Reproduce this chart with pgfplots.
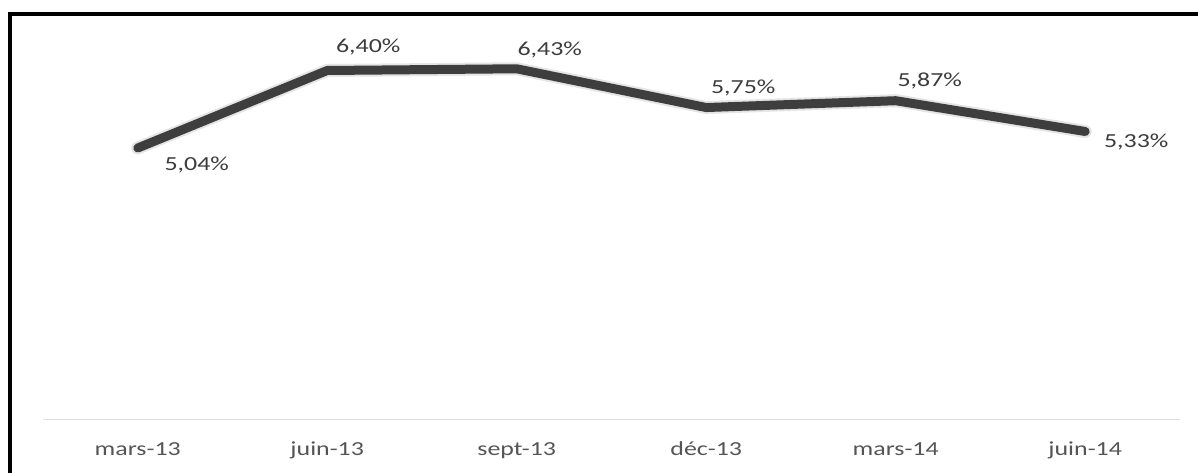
\documentclass[border=0pt]{standalone}
\usepackage{pgfplots}
\pgfplotsset{compat=1.18}
\usepackage{fontspec}
\setmainfont{Carlito}[FakeStretch=1.3]
\definecolor{linec}{RGB}{62,62,62}
\definecolor{labc}{RGB}{60,60,60}
\definecolor{tickc}{RGB}{85,85,85}
\definecolor{basec}{RGB}{222,222,222}
\begin{document}
\begin{tikzpicture}
\useasboundingbox (0bp,0bp) rectangle (1198bp,473bp);
\fill[white] (0bp,0bp) rectangle (1198bp,473bp);
% frame
\draw[black, line width=4bp] (10bp,0bp) -- (10bp,458.5bp) -- (1198bp,458.5bp);
\begin{axis}[
  at={(43bp,54bp)}, anchor=south west,
  scale only axis,
  width=1137bp, height=382.7bp,
  xmin=-0.5, xmax=5.5,
  ymin=0.286, ymax=7,
  axis x line=bottom, axis y line=none,
  x axis line style={-, draw=basec, line width=1bp},
  xtick={0,1,2,3,4,5},
  xticklabels={mars-13,juin-13,sept-13,déc-13,mars-14,juin-14},
  xtick style={draw=none},
  major tick length=0pt,
  xticklabel style={anchor=base, yshift=-36.5bp, font=\fontsize{20}{24}\selectfont, text=tickc},
  ytick=\empty,
  clip=false,
]
\addplot[draw=gray!40, opacity=0.5, line width=13bp, line join=round, line cap=round] coordinates {(0,5.04)(1,6.40)(2,6.43)(3,5.75)(4,5.87)(5,5.33)};
\addplot[draw=linec, line width=9bp, line join=round, line cap=round] coordinates {(0,5.04)(1,6.40)(2,6.43)(3,5.75)(4,5.87)(5,5.33)};
\begin{scope}[every node/.style={anchor=base, text=labc, font=\fontsize{20}{24}\selectfont, inner sep=0pt}]
\node[xshift=59bp, yshift=-22bp] at (axis cs:0,5.04) {5,04\%};
\node[xshift=41bp, yshift=17.5bp] at (axis cs:1,6.40) {6,40\%};
\node[xshift=33bp, yshift=13bp] at (axis cs:2,6.43) {6,43\%};
\node[xshift=37bp, yshift=14.5bp] at (axis cs:3,5.75) {5,75\%};
\node[xshift=34bp, yshift=14bp] at (axis cs:4,5.87) {5,87\%};
\node[xshift=51bp, yshift=-16bp] at (axis cs:5,5.33) {5,33\%};
\end{scope}
\end{axis}
\end{tikzpicture}
\end{document}
